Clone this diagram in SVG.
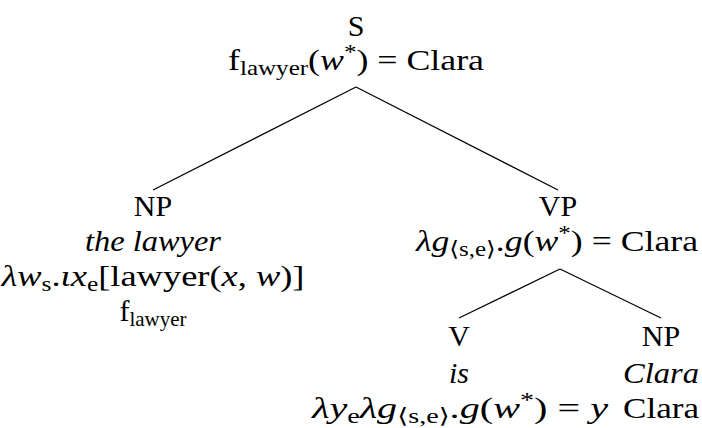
<svg xmlns="http://www.w3.org/2000/svg" width="702" height="428" viewBox="0 0 702 428">
<style>
text{font-family:"Liberation Serif","DejaVu Serif",serif;font-size:30px;fill:#000;text-anchor:middle}
.i{font-style:italic}
.s{font-size:21px}
.sp{font-size:21px}
line{stroke:#000;stroke-width:1.2}
</style>
<rect width="702" height="428" fill="#fff"/>
<g id="connectors">
<line x1="356" y1="87" x2="153" y2="190"/>
<line x1="356" y1="87" x2="558" y2="190"/>
<line x1="560" y1="269" x2="459" y2="318"/>
<line x1="560" y1="269" x2="661" y2="318"/>
</g>
<g id="S">
<text x="356" y="36">S</text>
<text x="356" y="70" textLength="256" lengthAdjust="spacingAndGlyphs">f<tspan class="s" dy="5">lawyer</tspan><tspan dy="-5">(</tspan><tspan class="i">w</tspan><tspan class="sp" dy="-11">*</tspan><tspan dy="11">) = Clara</tspan></text>
</g>
<g id="NP1">
<text x="153" y="216">NP</text>
<text x="153" y="251" class="i" textLength="136" lengthAdjust="spacingAndGlyphs">the lawyer</text>
<text x="153" y="286" textLength="303" lengthAdjust="spacingAndGlyphs"><tspan class="i">λw</tspan><tspan class="s" dy="5">s</tspan><tspan dy="-5">.</tspan><tspan class="i">ιx</tspan><tspan class="s" dy="5">e</tspan><tspan dy="-5">[lawyer(</tspan><tspan class="i">x</tspan>, <tspan class="i">w</tspan>)]</text>
<text x="153" y="321">f<tspan class="s" dy="5">lawyer</tspan></text>
</g>
<g id="VP">
<text x="558" y="216">VP</text>
<text x="557" y="251" textLength="282" lengthAdjust="spacingAndGlyphs"><tspan class="i">λg</tspan><tspan class="s" dy="5">⟨s,e⟩</tspan><tspan dy="-5">.</tspan><tspan class="i">g</tspan>(<tspan class="i">w</tspan><tspan class="sp" dy="-11">*</tspan><tspan dy="11">) = Clara</tspan></text>
</g>
<g id="V">
<text x="459" y="346">V</text>
<text x="459" y="383" class="i">is</text>
<text x="460" y="418" textLength="296" lengthAdjust="spacingAndGlyphs"><tspan class="i">λy</tspan><tspan class="s" dy="5">e</tspan><tspan class="i" dy="-5">λg</tspan><tspan class="s" dy="5">⟨s,e⟩</tspan><tspan dy="-5">.</tspan><tspan class="i">g</tspan>(<tspan class="i">w</tspan><tspan class="sp" dy="-11">*</tspan><tspan dy="11">) = </tspan><tspan class="i">y</tspan></text>
</g>
<g id="NP2">
<text x="661" y="346">NP</text>
<text x="661" y="383" class="i" textLength="76" lengthAdjust="spacingAndGlyphs">Clara</text>
<text x="661" y="418" textLength="76" lengthAdjust="spacingAndGlyphs">Clara</text>
</g>
</svg>
